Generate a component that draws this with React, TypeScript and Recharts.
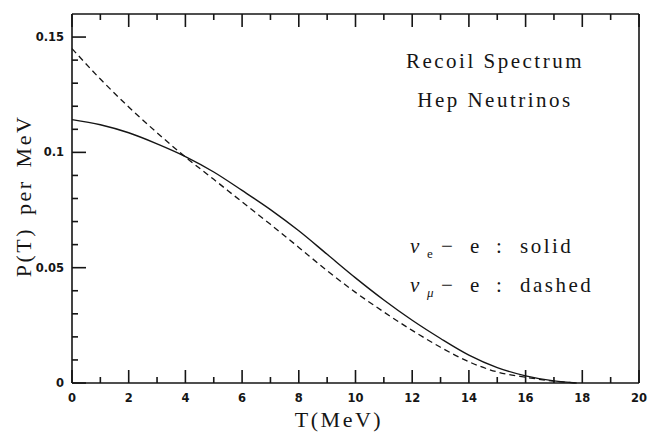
import React from 'react';
import { LineChart, Line, XAxis, YAxis } from 'recharts';

// Recoil energy T (MeV)
const tValues = [0, 1, 2, 3, 4, 5, 6, 7, 8, 9, 10, 11, 12, 13, 14, 15, 16, 17, 17.8];
// nu_e - e : solid
const solidValues = [0.1142, 0.112, 0.1085, 0.1037, 0.0982, 0.0915, 0.0835, 0.0752, 0.066, 0.0558, 0.0456, 0.036, 0.0272, 0.0193, 0.0121, 0.0067, 0.0031, 0.0009, 0];
// nu_mu - e : dashed
const dashedValues = [0.145, 0.1318, 0.1197, 0.1085, 0.098, 0.0883, 0.0785, 0.0688, 0.0588, 0.0487, 0.0393, 0.0308, 0.0228, 0.0155, 0.0092, 0.0048, 0.0025, 0.0008, 0];

const xTicks = [0, 1, 2, 3, 4, 5, 6, 7, 8, 9, 10, 11, 12, 13, 14, 15, 16, 17, 18, 19, 20];
const yTicks = [0, 0.01, 0.02, 0.03, 0.04, 0.05, 0.06, 0.07, 0.08, 0.09, 0.1, 0.11, 0.12, 0.13, 0.14, 0.15];

const titleLines = ['Recoil Spectrum', 'Hep Neutrinos'];
const xLabel = 'T(MeV)';
const yLabel = 'P(T) per MeV';

const data = tValues.map((t, i) => ({ t, solid: solidValues[i], dashed: dashedValues[i] }));

const INK = '#151515';
const TICK_FONT = { fontFamily: '"DejaVu Sans", sans-serif', fontWeight: 700, fontSize: 11.5, fill: INK } as const;
const TEXT_FONT = { fontFamily: '"Liberation Serif", serif', fontSize: 21, fill: INK, letterSpacing: 2.5 } as const;
const TS = 6; // recharts tick size (used only for locating the axis line)
const X_MARGIN = 10;
const Y_MARGIN = 8;
const MAJOR = 13;
const MINOR = 6;
const TICK_W = 1.6;

const isXMajor = (v: number) => Math.round(v) % 2 === 0;
const isYMajor = (v: number) => Math.round(v * 100) % 5 === 0;

const BottomTick = (p: any) => {
  const v = p.payload.value;
  const ay = p.y - X_MARGIN - TS;
  const major = isXMajor(v);
  return (
    <g>
      <path d={`M${p.x},${ay}V${ay - (major ? MAJOR : MINOR)}`} stroke={INK} strokeWidth={TICK_W} fill="none" />
      {major && (
        <text x={p.x} y={ay + 19} textAnchor="middle" {...TICK_FONT}>
          {v}
        </text>
      )}
    </g>
  );
};

const TopTick = (p: any) => {
  const v = p.payload.value;
  const ay = p.y + TS;
  const major = isXMajor(v);
  return <path d={`M${p.x},${ay}V${ay + (major ? MAJOR : MINOR)}`} stroke={INK} strokeWidth={TICK_W} fill="none" />;
};

const LeftTick = (p: any) => {
  const v = p.payload.value;
  const ax = p.x + Y_MARGIN + TS;
  const major = isYMajor(v);
  return (
    <g>
      <path d={`M${ax},${p.y}H${ax + (major ? MAJOR + 1 : MINOR)}`} stroke={INK} strokeWidth={TICK_W} fill="none" />
      {major && (
        <text x={ax - 8} y={p.y + 4} textAnchor="end" {...TICK_FONT}>
          {String(v)}
        </text>
      )}
    </g>
  );
};

const RightTick = (p: any) => {
  const v = p.payload.value;
  const ax = p.x - TS;
  const major = isYMajor(v);
  return <path d={`M${ax},${p.y}H${ax - (major ? MAJOR + 1 : MINOR)}`} stroke={INK} strokeWidth={TICK_W} fill="none" />;
};

const axisLine = { stroke: INK, strokeWidth: 1.6 };

export default function App() {
  return (
    <div style={{ position: 'absolute', left: 0, top: 0, width: 657, height: 435, background: '#fff' }}>
      <LineChart width={657} height={435} data={data} margin={{ top: 13, right: 17, bottom: 0, left: 0 }}>
        <XAxis
          xAxisId="bottom"
          dataKey="t"
          type="number"
          domain={[0, 20]}
          ticks={xTicks}
          interval={0}
          height={52}
          tickSize={TS}
          tickMargin={X_MARGIN}
          tickLine={false}
          axisLine={axisLine}
          tick={(p: any) => <BottomTick {...p} />}
        />
        <XAxis
          xAxisId="top"
          orientation="top"
          dataKey="t"
          type="number"
          domain={[0, 20]}
          ticks={xTicks}
          interval={0}
          height={1}
          tickSize={TS}
          tickMargin={0}
          tickLine={false}
          axisLine={axisLine}
          tick={(p: any) => <TopTick {...p} />}
        />
        <YAxis
          yAxisId="left"
          type="number"
          domain={[0, 0.16]}
          ticks={yTicks}
          interval={0}
          width={72}
          tickSize={TS}
          tickMargin={Y_MARGIN}
          tickLine={false}
          axisLine={axisLine}
          tick={(p: any) => <LeftTick {...p} />}
        />
        <YAxis
          yAxisId="right"
          orientation="right"
          type="number"
          domain={[0, 0.16]}
          ticks={yTicks}
          interval={0}
          width={1}
          tickSize={TS}
          tickMargin={0}
          tickLine={false}
          axisLine={axisLine}
          tick={(p: any) => <RightTick {...p} />}
        />
        <Line
          xAxisId="bottom"
          yAxisId="left"
          type="monotone"
          dataKey="solid"
          stroke={INK}
          strokeWidth={1.4}
          dot={false}
          isAnimationActive={false}
        />
        <Line
          xAxisId="bottom"
          yAxisId="left"
          type="monotone"
          dataKey="dashed"
          stroke={INK}
          strokeWidth={1.3}
          strokeDasharray="6 4"
          dot={false}
          isAnimationActive={false}
        />
      </LineChart>
      <svg width={657} height={435} style={{ position: 'absolute', left: 0, top: 0, pointerEvents: 'none' }}>
        <text x={495} y={68} textAnchor="middle" {...TEXT_FONT}>{titleLines[0]}</text>
        <text x={495} y={107} textAnchor="middle" {...TEXT_FONT}>{titleLines[1]}</text>
        <text y={253} {...TEXT_FONT}>
          <tspan x={410} fontStyle="italic">ν</tspan>
          <tspan x={427} dy={5} fontSize={13}>e</tspan>
          <tspan x={441} dy={-5}>−</tspan>
          <tspan x={470}>e</tspan>
          <tspan x={496}>:</tspan>
          <tspan x={520}>solid</tspan>
        </text>
        <text y={292} {...TEXT_FONT}>
          <tspan x={410} fontStyle="italic">ν</tspan>
          <tspan x={427} dy={5} fontSize={13} fontStyle="italic">μ</tspan>
          <tspan x={441} dy={-5}>−</tspan>
          <tspan x={470}>e</tspan>
          <tspan x={496}>:</tspan>
          <tspan x={520}>dashed</tspan>
        </text>
        <text x={339} y={427} textAnchor="middle" {...TEXT_FONT} fontSize={22}>{xLabel}</text>
        <text
          x={0}
          y={0}
          textAnchor="middle"
          transform="translate(31,196) rotate(-90)"
          {...TEXT_FONT}
          fontSize={22}
          wordSpacing={4}
        >
          {yLabel}
        </text>
      </svg>
    </div>
  );
}
